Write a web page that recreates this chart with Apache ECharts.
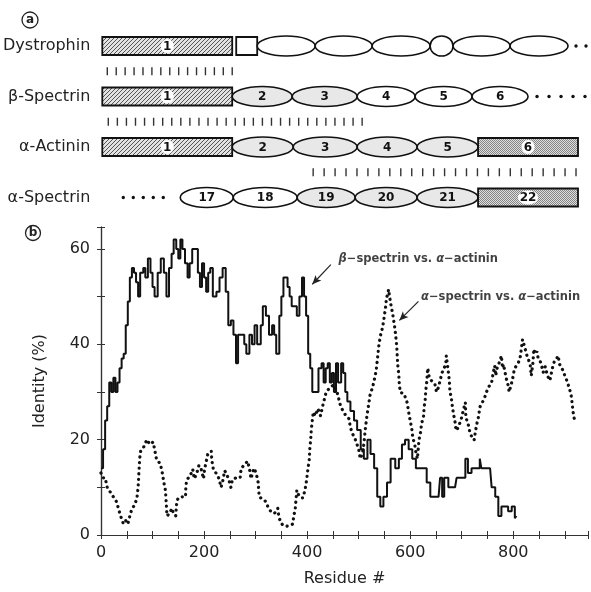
<!DOCTYPE html>
<html><head><meta charset="utf-8">
<script src="https://cdn.jsdelivr.net/npm/echarts@6/dist/echarts.min.js"></script>
<style>html,body{margin:0;padding:0;background:#fff}#c{width:591px;height:592px}</style>
</head><body><div id="c"></div><script>
// ---------- panel (a): domain maps (alignment positions) ----------
const proteins = ['Dystrophin', 'β-Spectrin', 'α-Actinin', 'α-Spectrin'];
const dystrophinDomains = [[102,232,'hatch','1'],[236,257,'box',''],[257,315,'ellipse',''],[315,372,'ellipse',''],[372,430,'ellipse',''],[430,453,'ellipse',''],[453,510,'ellipse',''],[510,568,'ellipse','']];
const betaSpectrinDomains = [[102,232,'hatch','1'],[232,292,'shaded','2'],[292,357,'shaded','3'],[357,415,'ellipse','4'],[415,472,'ellipse','5'],[472,528,'ellipse','6']];
const alphaActininDomains = [[102,232,'hatch','1'],[232,293,'shaded','2'],[293,357,'shaded','3'],[357,417,'shaded','4'],[417,478,'shaded','5'],[478,578,'stipple','6']];
const alphaSpectrinDomains = [[180,233,'ellipse','17'],[233,297,'ellipse','18'],[297,355,'shaded','19'],[355,417,'shaded','20'],[417,478,'shaded','21'],[478,578,'stipple','22']];
const continuationDots = [[0,[576,586]],[1,[537,549,561,573,585]],[3,[123,133,143,153,163]]];
const alignmentBars = [[0.5,107,232,15],[1.5,108,362,29],[2.5,313,576,25]];

// ---------- panel (b): identity profiles ----------
const residueTickLabels = [0,200,400,600,800];
const identityTickLabels = [0,20,40,60];
const betaSpectrinVsActinin = [[0,14],[4,18],[8,24],[12,27],[16,32],[20,30],[24,33],[28,30],[32,32],[36,35],[40,37],[44,38],[48,44],[52,49],[56,54],[60,56],[64,55],[68,53],[72,50],[76,55],[82,56],[86,54],[91,58],[96,55],[100,52],[104,50],[110,55],[116,58],[122,55],[127,50],[132,56],[137,59],[141,62],[146,60],[150,58],[154,62],[158,60],[163,57],[168,54],[172,57],[177,60],[183,60],[188,55],[192,52],[196,57],[200,54],[204,51],[208,55],[212,56],[217,50],[224,51],[230,54],[236,56],[242,51],[247,44],[252,45],[257,42],[262,36],[266,42],[272,42],[278,40],[282,38],[288,42],[293,40],[298,44],[303,40],[310,44],[314,48],[320,46],[326,42],[332,44],[336,42],[340,38],[346,46],[350,50],[354,54],[358,54],[362,52],[366,50],[370,48],[375,48],[380,46],[385,50],[390,54],[394,50],[398,46],[402,38],[406,35],[410,30],[418,30],[422,35],[428,36],[432,32],[436,35],[440,36],[444,32],[448,34],[452,30],[456,36],[460,32],[466,36],[470,34],[474,30],[478,28],[484,26],[491,24],[497,22],[504,18],[510,16],[517,20],[523,17],[530,14],[536,8],[542,6],[548,8],[555,11],[562,16],[571,14],[578,16],[584,19],[590,20],[597,18],[604,16],[611,14],[626,14],[632,11],[639,8],[655,8],[658,12],[662,8],[666,12],[674,10],[687,10],[690,12],[703,12],[707,16],[712,13],[719,14],[735,16],[738,14],[755,14],[758,10],[765,8],[771,4],[777,6],[784,6],[790,5],[797,6],[803,3.5],[806,4]];
const alphaSpectrinVsActinin = [[0,13],[4,12],[8,12],[12,10],[18,9],[24,8],[30,7],[34,5.5],[38,4],[43,2.5],[47,3.2],[52,2.3],[56,4],[60,5.5],[66,6.4],[70,8],[72,10],[73,12],[74,14],[75,16],[77,17.6],[83,18.5],[89,20],[95,19],[101,19.5],[104,18],[108,15.7],[115,15],[119,13],[122,11],[125,9.4],[126,7.7],[127,6],[128,4],[134,4.6],[137,5.6],[141,4.5],[145,4],[147,7],[150,7.8],[156,8],[164,8],[164.5,9.7],[166,11.5],[173,12.4],[178,13.8],[181,11.8],[186,13],[190,14.6],[194,14],[199,11.8],[201,13.8],[204,15.3],[207,16.9],[214,17.6],[215,15.7],[218,13.8],[225,12.7],[229,11.8],[233,10],[236,11.2],[240,13.5],[244,12.7],[246,13.1],[248,11.6],[252,10],[255,11.6],[262,12],[270,12],[272,14],[281,15],[284,15.5],[288,14],[291,11.8],[294,13],[297,14],[301,13],[305,11],[307,8],[314,7.5],[320,7],[325,5.6],[332,4.6],[337,4.6],[343,5.6],[345,3.9],[349,2.5],[354,2],[359,1.8],[366,2],[372,2.3],[374,3.9],[377,5.6],[380,9.4],[383,8.5],[388,7.8],[392,7.8],[396,9.5],[399,11.5],[401,13.4],[404,15.7],[405,17.8],[407,20.2],[408,22],[410,24],[412,25.8],[416,25],[421,26.5],[426,25],[430,27],[437,30],[445,31],[452,31.5],[458,30],[465,27],[472,25.5],[481,24.4],[484,22.6],[487,21.5],[494,19.9],[500,18],[503,16],[507,17],[510,19],[513,22.3],[516,25],[520,27.8],[522,29.3],[527,31],[530,32.4],[534,34.5],[536,36.5],[539,39.6],[542,41.7],[546,43.4],[548,44.6],[552,47.6],[554,49.7],[557,50.8],[558,51.5],[560,50],[563,48],[566,46.4],[570,43.5],[572,41.7],[574,39.3],[575,37.2],[576,35.5],[578,33.4],[579,31.4],[581,29.9],[588,29.6],[594,27.8],[597,25.8],[600,24],[603,22.3],[605,20.5],[609,18.8],[611,17.4],[614,16],[617,19.9],[620,21.5],[622,23.3],[626,25],[627,26.8],[629,28.2],[630,30],[632,32],[634,35],[637,33],[641,32.4],[648,31.6],[651,30],[655,31],[658,32.4],[662,34.1],[669,35.8],[670,37.6],[673,35],[676,32.4],[677,30.2],[680,28.5],[682,26.8],[684,25.4],[687,23.7],[689,21.9],[693,22.5],[697,23.7],[700,24.7],[703,26.1],[707,27.8],[708,24.7],[713,23],[716,21.4],[720,20.5],[724,19.9],[727,22],[730,23.7],[733,25],[735,26.8],[740,27.8],[745,29],[748,30],[752,31],[758,32],[761,34],[764,35.5],[766,33.4],[768,34.8],[774,36.5],[777,37.6],[779,35],[781,35.8],[786,33],[790,31.4],[792,30],[797,32],[800,33.4],[802,34.8],[810,36.2],[813,37],[816,39.3],[818,41],[822,39.5],[826,37.8],[829,37],[833,35.5],[835,33.4],[838,36],[840,39],[842,38],[846,38.5],[848,37.2],[852,36.5],[855,35.5],[858,34.1],[862,35.3],[865,34],[868,33],[871,32.4],[874,34],[877,35.5],[880,36.5],[884,37],[887,37.6],[890,35.8],[894,35],[897,34.4],[900,33.4],[905,32.1],[908,31],[912,29.6],[914,27.8],[916,25.8],[919.5,23.7]];
const annotationLabels = ['{g|β}−spectrin vs. {g|α}−actinin', '{g|α}−spectrin vs. {g|α}−actinin'];
const annotationAnchors = [[460,57.9],[620,49.9]];
const arrowLines = [[[446,56.7],[410,52.6]],[[616,49],[579,45]]];

// ---------- build ----------
const FONT = '"DejaVu Sans", sans-serif';
function makePattern(size, draw){const c=document.createElement('canvas');c.width=c.height=size;draw(c.getContext('2d'));return c;}
const hatchCanvas = makePattern(4, g=>{g.fillStyle='#e2e2e2';g.fillRect(0,0,4,4);g.strokeStyle='#555';g.lineWidth=1;g.beginPath();g.moveTo(0,4);g.lineTo(4,0);g.moveTo(-1,1);g.lineTo(1,-1);g.moveTo(3,5);g.lineTo(5,3);g.stroke();});
const stippleCanvas = makePattern(2, g=>{g.fillStyle='#dedede';g.fillRect(0,0,2,2);g.fillStyle='#858585';g.fillRect(0,0,1,1);g.fillRect(1,1,1,1);});

const diagramItems = [];
[dystrophinDomains, betaSpectrinDomains, alphaActininDomains, alphaSpectrinDomains].forEach((doms,row)=>
  doms.forEach(d=>diagramItems.push({value:[d[0],d[1],row], kind:d[2], label:d[3]})));
continuationDots.forEach(([row,xs])=>xs.forEach(x=>diagramItems.push({value:[x,x,row], kind:'dot', label:''})));
alignmentBars.forEach(([row,from,to,n])=>{for(let i=0;i<n;i++){const x=from+(to-from)*i/(n-1);diagramItems.push({value:[x,x,row],kind:'dash',label:''});}});

function renderDiagram(params, api){
  const it = diagramItems[params.dataIndex];
  const p0 = api.coord([api.value(0), api.value(2)]);
  const p1 = api.coord([api.value(1), api.value(2)]);
  const cx=(p0[0]+p1[0])/2, cy=p0[1], w=p1[0]-p0[0];
  const font = 'bold 12px ' + FONT;
  const txt = {type:'text', z2:10, style:{text:it.label, x:cx, y:cy+0.5, align:'center', verticalAlign:'middle', font, fill:'#111'}};
  if (it.kind==='dot') return {type:'circle', shape:{cx:p0[0],cy,r:1.7}, style:{fill:'#111'}};
  if (it.kind==='dash') return {type:'line', shape:{x1:p0[0],y1:cy-4,x2:p0[0],y2:cy+4}, style:{stroke:'#333',lineWidth:1.4}};
  if (it.kind==='hatch'||it.kind==='stipple'||it.kind==='box'){
    const fill = it.kind==='hatch'?{image:hatchCanvas,repeat:'repeat'}:it.kind==='stipple'?{image:stippleCanvas,repeat:'repeat'}:'#fff';
    const ch=[{type:'rect', shape:{x:p0[0],y:cy-9,width:w,height:18}, style:{fill, stroke:'#111', lineWidth:1.8}}];
    if(it.label){ch.push({type:'ellipse', z2:5, shape:{cx,cy,rx:it.label.length>1?10:6.5,ry:7}, style:{fill:'#fff'}}); ch.push(txt);}
    return {type:'group', children:ch};
  }
  const ch=[{type:'ellipse', shape:{cx,cy,rx:w/2,ry:10}, style:{fill: it.kind==='shaded'?'#e8e8e8':'#fff', stroke:'#111', lineWidth:1.6}}];
  if(it.label) ch.push(txt);
  return {type:'group', children:ch};
}

const axisCol = '#333';
const lbl = {fontFamily:FONT, fontSize:16, color:'#222'};
const chart = echarts.init(document.getElementById('c'), null, {renderer:'canvas'});
chart.setOption({
  animation:false,
  backgroundColor:'#fff',
  grid:[{left:101,right:1,top:227,bottom:55},{left:100,right:0,top:20.75,height:202}],
  xAxis:[
    {gridIndex:0,type:'value',min:0,max:945,interval:50,position:'bottom',
     axisLine:{lineStyle:{color:axisCol,width:1.2}},axisTick:{inside:true,length:4,lineStyle:{color:axisCol}},
     axisLabel:Object.assign({margin:10,formatter:v=>residueTickLabels.includes(v)?String(v):''},lbl),
     splitLine:{show:false},name:'Residue #',nameLocation:'middle',nameGap:36,nameTextStyle:lbl},
    {gridIndex:0,type:'value',min:0,max:945,interval:50,position:'top',
     axisLine:{lineStyle:{color:axisCol,width:1.2}},axisTick:{inside:true,length:4,lineStyle:{color:axisCol}},
     axisLabel:{show:false},splitLine:{show:false}},
    {gridIndex:1,type:'value',min:100,max:591,show:false}
  ],
  yAxis:[
    {gridIndex:0,type:'value',min:0,max:64.6,interval:10,position:'left',
     axisLine:{lineStyle:{color:axisCol,width:1.2}},axisTick:{inside:true,length:4,lineStyle:{color:axisCol}},
     axisLabel:Object.assign({margin:11,formatter:v=>identityTickLabels.includes(v)?String(v):''},lbl),
     splitLine:{show:false},name:'Identity (%)',nameLocation:'middle',nameGap:53,nameRotate:90,nameTextStyle:lbl},
    {gridIndex:0,type:'value',min:0,max:64.6,interval:10,position:'right',
     axisLine:{lineStyle:{color:axisCol,width:1.2}},axisTick:{inside:true,length:4,lineStyle:{color:axisCol}},
     axisLabel:{show:false},splitLine:{show:false}},
    {gridIndex:1,type:'value',min:-0.5,max:3.5,inverse:true,show:false},
    {gridIndex:1,type:'category',data:proteins,inverse:true,position:'left',
     axisLine:{show:false},axisTick:{show:false},axisLabel:{margin:10,fontFamily:FONT,fontSize:16,color:'#222'}}
  ],
  series:[
    {type:'line',xAxisIndex:0,yAxisIndex:0,data:alphaSpectrinVsActinin,showSymbol:false,
     lineStyle:{color:'#111',width:3.2,type:[0.1,5.5],cap:'round'},z:2},
    {type:'line',xAxisIndex:0,yAxisIndex:0,data:betaSpectrinVsActinin,step:'end',showSymbol:false,
     lineStyle:{color:'#111',width:2},z:3},
    {type:'scatter',xAxisIndex:0,yAxisIndex:0,symbolSize:1,itemStyle:{color:'rgba(0,0,0,0)'},
     data:annotationAnchors.map((a,i)=>({value:a,name:annotationLabels[i]})),
     label:{show:true,position:'right',distance:0,formatter:p=>p.name,fontFamily:FONT,fontSize:11.5,fontWeight:'bold',color:'#111',
       rich:{g:{fontFamily:FONT,fontSize:11.5,fontWeight:'bold',fontStyle:'italic',color:'#111'}}},
     markLine:{silent:true,symbol:['none','arrow'],symbolSize:[6,9],label:{show:false},
       lineStyle:{color:'#222',width:1.2,type:'solid'},
       data:arrowLines.map(([a,b])=>[{coord:a},{coord:b}])}},
    {type:'custom',xAxisIndex:2,yAxisIndex:2,data:diagramItems.map(d=>d.value),renderItem:renderDiagram,clip:false,silent:true}
  ],
  graphic:[
    {type:'circle',shape:{cx:30,cy:20,r:8},style:{fill:'none',stroke:'#222',lineWidth:1.3}},
    {type:'text',x:30,y:20,style:{text:'a',align:'center',verticalAlign:'middle',textAlign:'center',textVerticalAlign:'middle',font:'bold 12px '+FONT,fill:'#222'}},
    {type:'circle',shape:{cx:33,cy:233,r:7.5},style:{fill:'none',stroke:'#222',lineWidth:1.3}},
    {type:'text',x:33,y:233,style:{text:'b',align:'center',verticalAlign:'middle',textAlign:'center',textVerticalAlign:'middle',font:'bold 12px '+FONT,fill:'#222'}}
  ]
});
</script></body></html>
